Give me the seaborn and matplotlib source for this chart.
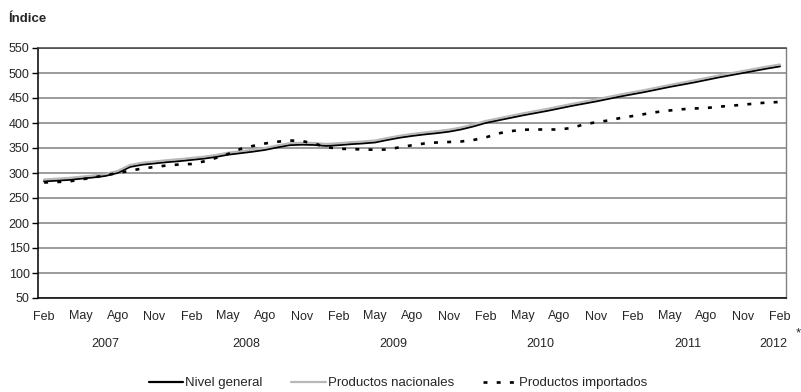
import matplotlib
matplotlib.use("Agg")
import matplotlib.pyplot as plt
import matplotlib.transforms as mtransforms
import pandas as pd
import seaborn as sns

# --------------------------------------------------
# Data (monthly index, Feb 2007 - Feb 2012)
# --------------------------------------------------

month_names = ["Ene", "Feb", "Mar", "Abr", "May", "Jun",
               "Jul", "Ago", "Sep", "Oct", "Nov", "Dic"]
years = [2007, 2008, 2009, 2010, 2011, 2012]

nivel_general = [
    283.5, 285, 286.5, 289, 291.5, 294.5, 300.5, 312.5, 317, 319.5,
    322, 324, 326.5, 329, 332.5, 337, 340, 343, 346.5, 351.5,
    356, 357, 356.5, 354.5, 356, 358, 359.5, 361.5, 366.5, 371,
    374.5, 377.5, 380, 383, 387.5, 393.5, 400.5, 405.5, 410.5, 415.5,
    420, 424.5, 429.5, 434.5, 439, 443.5, 448.5, 453.5, 458, 462.5,
    467.5, 472.5, 477, 481.5, 486.5, 491.5, 496, 500.5, 505, 509.5,
    513.5,
]

productos_nacionales = [
    287, 288.5, 290, 292.5, 295, 298, 304, 316, 320.5, 323,
    325.5, 327.5, 330, 332.5, 336, 340.5, 343.5, 346.5, 350, 355,
    359.5, 360.5, 360, 358, 359.5, 361.5, 363, 365, 370, 374.5,
    378, 381, 383.5, 386.5, 391, 397, 404, 409, 414, 419,
    423.5, 428, 433, 438, 442.5, 447, 452, 457, 461.5, 466,
    471, 476, 480.5, 485, 490, 495, 499.5, 504, 508.5, 513,
    517,
]

productos_importados = [
    281, 282, 283, 287, 291, 295.5, 300, 304.5, 309, 312,
    315, 317, 318, 323, 330, 338, 348, 354, 359, 362.5,
    365, 364, 359, 352, 348.5, 348, 347, 346.5, 347, 351.5,
    355.5, 359, 361, 362, 363, 366, 371, 379, 383.5, 386.5,
    387, 387, 387, 390, 397, 401.5, 405, 410, 414, 418,
    422, 425, 427.5, 429, 430, 432.5, 434.5, 436.5, 439, 441,
    442,
]

# month / year of every observation
obs_year = []
obs_month = []
for y in years:
    for m in month_names:
        obs_year.append(y)
        obs_month.append(m)
start = 1  # Feb 2007
obs_year = obs_year[start:start + len(nivel_general)]
obs_month = obs_month[start:start + len(nivel_general)]

df = pd.DataFrame({
    "t": range(len(nivel_general)),
    "year": obs_year,
    "month": obs_month,
    "Nivel general": nivel_general,
    "Productos nacionales": productos_nacionales,
    "Productos importados": productos_importados,
})

# --------------------------------------------------
# Style
# --------------------------------------------------

sns.set_style("white")
plt.rcParams["font.family"] = ["Liberation Sans", "DejaVu Sans"]
plt.rcParams["font.size"] = 9

fig = plt.figure(figsize=(8.01, 3.92), dpi=100)
ax = fig.add_axes([38 / 801, 94 / 392, 748 / 801, 250 / 392])

# --------------------------------------------------
# Lines
# --------------------------------------------------

sns.lineplot(data=df, x="t", y="Nivel general", ax=ax,
             color="black", linewidth=1.6, label="Nivel general")
sns.lineplot(data=df, x="t", y="Productos nacionales", ax=ax,
             color="#b8b8b8", linewidth=1.6, label="Productos nacionales")
sns.lineplot(data=df, x="t", y="Productos importados", ax=ax,
             color="black", linewidth=1.9, label="Productos importados",
             dashes=(1.5, 3.5))
ax.lines[-1].set_dash_capstyle("butt")

# --------------------------------------------------
# Axes
# --------------------------------------------------

ax.set_xlim(-0.5, len(nivel_general) - 0.5)
ax.set_ylim(50, 550)
ax.set_yticks(range(50, 551, 50))
ax.yaxis.grid(True, color="#808080", linewidth=1.1)
ax.set_axisbelow(True)

tick_idx = df.index[df["month"].isin(["Feb", "May", "Ago", "Nov"])]
ax.set_xticks(df.loc[tick_idx, "t"])
ax.set_xticklabels(df.loc[tick_idx, "month"])
ax.tick_params(axis="x", length=0, pad=9, labelsize=9)
ax.tick_params(axis="y", length=4, width=1, color="black", pad=2,
               labelsize=9, left=True)
ax.set_xlabel("")
ax.set_ylabel("")

for side in ["left", "bottom"]:
    ax.spines[side].set_color("black")
    ax.spines[side].set_linewidth(1.1)
ax.spines["top"].set_color("#404040")
ax.spines["top"].set_linewidth(1.1)
ax.spines["right"].set_color("#808080")
ax.spines["right"].set_linewidth(1.0)

# year labels under the month ticks
trans = mtransforms.blended_transform_factory(ax.transData, ax.transAxes)
year_pos = df.groupby("year")["t"].mean()
for y, pos in year_pos.items():
    ax.text(pos, -0.185, str(y), transform=trans, ha="center",
            va="center", fontsize=9)

fig.text(798 / 801, 1 - 333 / 392, "*", ha="center", va="center",
         fontsize=9.5)

fig.text(8 / 801, 1 - 19 / 392, "Índice", ha="left", va="center",
         fontsize=9.5, fontweight="bold")

# --------------------------------------------------
# Legend
# --------------------------------------------------

handles, labels = ax.get_legend_handles_labels()
ax.get_legend().remove()
fig.legend(handles, labels, loc="center", ncol=3, frameon=False,
           bbox_to_anchor=(398 / 801, 1 - 383 / 392), fontsize=9.5,
           handlelength=2.6, handletextpad=0.15, columnspacing=2.2)

fig.savefig("out.png", dpi=100)
plt.close(fig)
